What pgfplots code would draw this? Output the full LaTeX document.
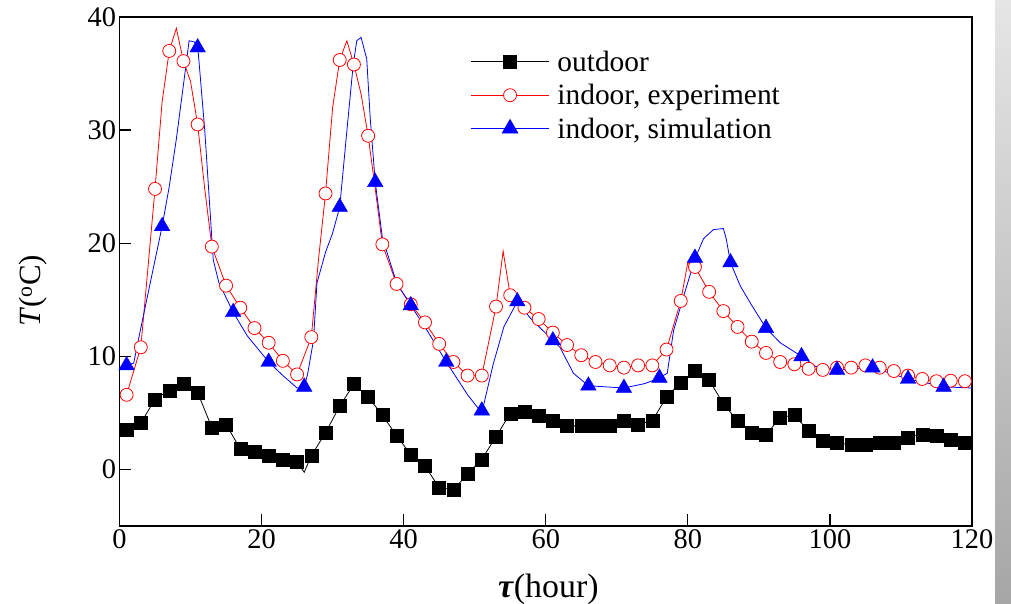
\documentclass[border=0pt]{standalone}
\usepackage{fontspec}
\setmainfont{Liberation Serif}
\usepackage{pgfplots}
\pgfplotsset{compat=1.18}

\newcommand{\chartfont}{\fontsize{28.5}{34}\selectfont}
\newcommand{\legendfont}{\fontsize{29.5}{34}\selectfont}

\begin{document}
\begin{tikzpicture}
\begin{axis}[
  at={(0,0)}, anchor=south west,
  scale only axis,
  width=852.5bp, height=509bp,
  xmin=0, xmax=120, ymin=-5, ymax=40,
  xtick={0,20,...,120}, ytick={0,10,...,40},
  minor tick num=0,
  tick pos=left, tick align=inside,
  major tick length=12bp,
  axis line style={line width=1.3pt},
  tick style={line width=1.3pt, black},
  /pgf/number format/assume math mode=true,
  ticklabel style={font=\chartfont},
  xlabel={\textbf{\textit{τ}}(hour)},
  ylabel={\textit{T}(\textsuperscript{o}C)},
  xlabel style={font=\fontsize{34}{38}\selectfont,
    at={(axis description cs:0.503,0)}, anchor=center, yshift=-63bp},
  ylabel style={font=\fontsize{31}{36}\selectfont,
    at={(axis description cs:-0.101,0.462)}, anchor=center},
  legend style={at={(axis cs:49.4,37.2)}, anchor=north west, draw=none, fill=none,
    font=\legendfont, inner sep=0pt, row sep=7.5bp,
    nodes={inner sep=2bp},
    /tikz/every odd column/.append style={column sep=6bp}},
  legend cell align=left,
  legend image code/.code={
    \draw[mark repeat=2,mark phase=2,#1] plot coordinates {(0bp,0bp)(39bp,0bp)(78bp,0bp)};
  },
]

% outdoor air temperature
\addplot[black, line width=0.8pt, forget plot] coordinates {
(1,3.5)(3,4.1)(5,6.2)(7,7.0)(9,7.6)(11,6.8)(13,3.7)(15,4.0)(17,1.8)(19,1.6)
(21,1.25)(23,0.85)(25,0.65)(26,-0.25)(27,1.2)(29,3.25)(31,5.6)(33,7.55)(35,6.4)(37,4.8)
(39,3.0)(41,1.3)(43,0.3)(45,-1.6)(47,-1.8)(49,-0.4)(51,0.9)(53,2.9)(55,4.95)(57,5.1)
(59,4.75)(61,4.3)(63,3.85)(65,3.85)(67,3.9)(69,3.9)(71,4.3)(73,4.0)(75,4.3)(77,6.4)
(79,7.7)(81,8.7)(83,7.9)(85,5.8)(87,4.3)(89,3.25)(91,3.05)(93,4.6)(95,4.8)(97,3.4)
(99,2.5)(101,2.4)(103,2.15)(105,2.2)(107,2.35)(109,2.35)(111,2.85)(113,3.1)(115,2.95)
(117,2.6)(119,2.35)
};
\addplot[only marks, mark=square*, mark size=6.5bp, black, forget plot] coordinates {
(1,3.5)(3,4.1)(5,6.2)(7,7.0)(9,7.6)(11,6.8)(13,3.7)(15,4.0)(17,1.8)(19,1.6)
(21,1.25)(23,0.85)(25,0.65)(27,1.2)(29,3.25)(31,5.6)(33,7.55)(35,6.4)(37,4.8)
(39,3.0)(41,1.3)(43,0.3)(45,-1.6)(47,-1.8)(49,-0.4)(51,0.9)(53,2.9)(55,4.95)(57,5.1)
(59,4.75)(61,4.3)(63,3.85)(65,3.85)(67,3.9)(69,3.9)(71,4.3)(73,4.0)(75,4.3)(77,6.4)
(79,7.7)(81,8.7)(83,7.9)(85,5.8)(87,4.3)(89,3.25)(91,3.05)(93,4.6)(95,4.8)(97,3.4)
(99,2.5)(101,2.4)(103,2.15)(105,2.2)(107,2.35)(109,2.35)(111,2.85)(113,3.1)(115,2.95)
(117,2.6)(119,2.35)
};

% indoor temperature, measured
\addplot[red, line width=0.8pt, forget plot] coordinates {
(1,6.6)(3,10.8)(5,24.8)(6,32.5)(7,37.0)(8,39.0)(9,36.1)(10,34.3)(11,30.5)(12,24.8)
(13,19.7)(15,16.25)(17,14.3)(19,12.5)(21,11.2)(23,9.6)(25,8.4)(27,11.7)(28,18.5)(29,24.4)
(30,32.0)(31,36.2)(32,37.9)(33,35.8)(34,33.2)(35,29.5)(36,24.8)(37,19.9)(39,16.4)(41,14.6)
(43,13.0)(45,11.1)(47,9.5)(49,8.3)(51,8.3)(53,14.4)(54,19.3)(55,15.4)(57,14.3)(59,13.3)
(61,12.1)(63,11.0)(65,10.1)(67,9.5)(69,9.2)(71,9.0)(73,9.2)(75,9.2)(77,10.6)(79,14.9)
(80,18.3)(81,17.9)(83,15.7)(85,14.0)(87,12.6)(89,11.3)(91,10.3)(93,9.5)(95,9.3)(97,8.9)
(99,8.8)(101,9.0)(103,9.0)(105,9.2)(107,9.0)(109,8.7)(111,8.3)(113,8.0)(115,7.8)(117,7.85)
(119,7.8)(120,7.8)
};
\addplot[only marks, mark=*, mark size=6.5bp, draw=red, fill=white, line width=0.8pt, forget plot] coordinates {
(1,6.6)(3,10.8)(5,24.8)(7,37.0)(9,36.1)(11,30.5)(13,19.7)(15,16.25)(17,14.3)(19,12.5)
(21,11.2)(23,9.6)(25,8.4)(27,11.7)(29,24.4)(31,36.2)(33,35.8)(35,29.5)(37,19.9)(39,16.4)
(41,14.6)(43,13.0)(45,11.1)(47,9.5)(49,8.3)(51,8.3)(53,14.4)(55,15.4)(57,14.3)(59,13.3)
(61,12.1)(63,11.0)(65,10.1)(67,9.5)(69,9.2)(71,9.0)(73,9.2)(75,9.2)(77,10.6)(79,14.9)
(81,17.9)(83,15.7)(85,14.0)(87,12.6)(89,11.3)(91,10.3)(93,9.5)(95,9.3)(97,8.9)(99,8.8)
(101,9.0)(103,9.0)(105,9.2)(107,9.0)(109,8.7)(111,8.3)(113,8.0)(115,7.8)(117,7.85)(119,7.8)
};

% indoor temperature, simulated
\addplot[blue, line width=0.8pt, forget plot] coordinates {
(1,9.2)(2,9.4)(3,12.5)(4,15.5)(5,18.5)(6,21.5)(7,25.0)(8,29.2)(9,34.0)(9.8,37.9)
(10.5,37.8)(11,37.5)(12,30.0)(13.2,18.5)(14,16.5)(16,13.9)(18,11.8)(21,9.5)(23,8.3)(25,7.2)
(26,7.2)(26.5,8.5)(27.3,11.4)(27.8,16.5)(29,19.2)(30,20.9)(31,23.2)(32,29.9)(32.9,35.8)(33.4,37.9)
(34,38.2)(34.8,36.3)(35.3,31.0)(36,25.4)(37,20.5)(39,16.5)(41,14.5)(43,12.6)(46,9.5)(49,6.6)
(51,5.0)(52.6,9.3)(54.1,12.6)(56,14.85)(57.8,13.4)(61,11.4)(62,10.8)(63.9,8.5)(66,7.4)(71,7.2)
(74,7.6)(76,8.1)(77.1,8.5)(78,12.3)(79.4,15.3)(81,18.6)(82.2,20.4)(83.6,21.2)(85,21.3)(85.4,20.4)
(86,18.3)(87.4,16.2)(89,14.5)(91,12.5)(93,11.2)(96,10.0)(98,9.1)(101,8.8)(104,8.9)
(106,9.0)(108,8.6)(111,8.0)(114,7.6)(116,7.3)(120,7.2)
};
\addplot[only marks, mark=triangle*, mark size=9bp, blue, forget plot] coordinates {
(1,9.2)(6,21.5)(11,37.3)(16,13.9)(21,9.5)(26,7.3)(31,23.2)(36,25.4)(41,14.5)(46,9.5)
(51,5.2)(56,14.85)(61,11.4)(66,7.4)(71,7.2)(76,8.1)(81,18.7)(86,18.3)(91,12.5)(96,10.0)
(101,8.8)(106,9.0)(111,8.0)(116,7.3)
};

\addlegendimage{black, line width=0.8pt, mark=square*, mark size=6.5bp}
\addlegendentry{outdoor}
\addlegendimage{red, line width=0.8pt, mark=*, mark size=6.5bp, mark options={fill=white}}
\addlegendentry{indoor, experiment}
\addlegendimage{blue, line width=0.8pt, mark=triangle*, mark size=9bp}
\addlegendentry{indoor, simulation}
\end{axis}

% grey margin strip at the right edge
\shade[top color=black!10, bottom color=black!35] (875.5bp,-78bp) rectangle (891.5bp,526bp);

\pgfresetboundingbox
\path[use as bounding box] (-119.5bp,-78bp) rectangle (891.5bp,526bp);
\end{tikzpicture}
\end{document}
